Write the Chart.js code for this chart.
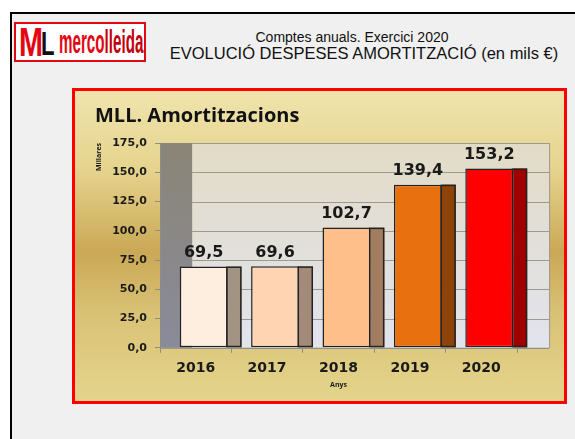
<!DOCTYPE html>
<html>
<head>
<meta charset="utf-8">
<script src="https://cdn.jsdelivr.net/npm/chart.js@4.4.0/dist/chart.umd.min.js"></script>
<style>
  html, body { margin: 0; padding: 0; background: #fff; width: 575px; height: 439px; overflow: hidden; }
  .frame { position: absolute; left: 10px; top: 12px; width: 600px; height: 460px; border: 2px solid #000; background: #f0f0f0; }
  .logo { position: absolute; left: 14px; top: 22px; width: 128px; height: 36px; border: 2px solid #e30613; background: #fff; overflow: hidden; }
  .logo div { position: absolute; font-family: "Liberation Sans", sans-serif; font-weight: bold; white-space: nowrap; transform-origin: 0 0; }
  .head { position: absolute; text-align: center; font-family: "Liberation Sans", Arial, sans-serif; color: #111; }
  .panel { position: absolute; left: 72px; top: 88px; width: 489px; height: 310px; border: 3px solid #ff0000;
    background: linear-gradient(to bottom, #efe4ad 0%, #e6d48e 25%, #caa855 52%, #d9c276 72%, #e4d58c 100%); }
  canvas { position: absolute; left: 0; top: 0; }
</style>
</head>
<body>
<div class="frame"></div>
<div class="logo">
  <div style="left:3px; top:-4px; font-size:40px; color:#e30613; transform:scaleX(0.72);">M</div>
  <div style="left:25px; top:0px; font-size:34px; color:#111; transform:scaleX(0.65);">L</div>
  <div style="left:43px; top:-1px; font-size:33px; color:#e30613; transform:scaleX(0.46);">merco<span style="color:#c4000e;">lleida</span></div>
</div>
<div class="head" style="left:200px; width:304px; top:29px; font-size:14px;">Comptes anuals. Exercici 2020</div>
<div class="head" style="left:150px; width:428px; top:44px; font-size:16.5px;">EVOLUCIÓ DESPESES AMORTITZACIÓ (en mils €)</div>
<div class="panel"><canvas id="myChart" width="489" height="310"></canvas></div>
<script>
const years = ["2016", "2017", "2018", "2019", "2020"];
const amortitzacions = [69.5, 69.6, 102.7, 139.4, 153.2];
const frontColors = ["#fdeee0", "#fed4b2", "#ffbf8a", "#e8700f", "#ff0000"];
const sideColors = ["#a39383", "#a48a78", "#a27c5e", "#8e4408", "#a00000"];
const yMin = 0, yMax = 175, yStep = 25;

const fmt = v => v.toFixed(1).replace(".", ",");
const boldFont = "'DejaVu Sans', sans-serif";

// fake 3D look: walls, side faces and value labels
const depthPlugin = {
    id: "depth",
    beforeDraw(chart) {
        const { ctx, chartArea: a, scales } = chart;
        const cat = (a.right - a.left) / years.length;
        const d = cat * 0.45;

        let g = ctx.createLinearGradient(0, a.top, 0, a.bottom);
        g.addColorStop(0, "#e2dbc6");
        g.addColorStop(1, "#e2e4ee");
        ctx.fillStyle = g;
        ctx.fillRect(a.left + d, a.top, a.right - a.left, a.bottom - a.top);

        g = ctx.createLinearGradient(0, a.top, 0, a.bottom);
        g.addColorStop(0, "#8a8576");
        g.addColorStop(1, "#8a8b9a");
        ctx.fillStyle = g;
        ctx.fillRect(a.left, a.top, d, a.bottom - a.top);

        ctx.strokeStyle = "#9d998c";
        ctx.lineWidth = 1;
        scales.y.ticks.forEach(t => {
            const y = Math.round(scales.y.getPixelForValue(t.value)) + 0.5;
            ctx.beginPath();
            ctx.moveTo(a.left + d, y);
            ctx.lineTo(a.right + d, y);
            ctx.stroke();
        });
        ctx.beginPath();
        ctx.moveTo(a.right + d + 0.5, a.top);
        ctx.lineTo(a.right + d + 0.5, a.bottom);
        ctx.stroke();
        ctx.strokeStyle = "#8c8c8c";
        ctx.beginPath();
        ctx.moveTo(a.left, a.bottom + 0.5);
        ctx.lineTo(a.right + d, a.bottom + 0.5);
        ctx.stroke();
    },
    beforeDatasetsDraw(chart) {
        const a = chart.chartArea;
        const cat = (a.right - a.left) / years.length;
        chart.ctx.save();
        chart.ctx.translate(cat * 0.112, 0);
    },
    afterDatasetsDraw(chart) {
        const { ctx, chartArea: a } = chart;
        const cat = (a.right - a.left) / years.length;
        const side = cat * 0.195;
        chart.getDatasetMeta(0).data.forEach((bar, i) => {
            const x = bar.x + bar.width / 2;
            const h = bar.base - bar.y;
            ctx.fillStyle = sideColors[i];
            ctx.fillRect(x, bar.y, side, h);
            ctx.strokeStyle = "#222";
            ctx.lineWidth = 1.5;
            ctx.strokeRect(x - 0.75, bar.y + 0.75, side, h - 1.5);

            ctx.fillStyle = "#1a1a1a";
            ctx.font = "bold 16px " + boldFont;
            ctx.textAlign = "center";
            ctx.textBaseline = "bottom";
            ctx.fillText(fmt(amortitzacions[i]), bar.x, bar.y - 6);
        });
        ctx.restore();
    }
};

new Chart(document.getElementById("myChart"), {
    type: "bar",
    data: {
        labels: years,
        datasets: [{
            data: amortitzacions,
            backgroundColor: frontColors,
            borderColor: "#222",
            borderWidth: 1.5,
            borderSkipped: false,
            categoryPercentage: 1,
            barPercentage: 0.672
        }]
    },
    options: {
        responsive: false,
        devicePixelRatio: 1,
        animation: false,
        layout: { padding: { left: 20, right: 47, top: 0, bottom: 12 } },
        plugins: {
            legend: { display: false },
            tooltip: { enabled: false },
            title: {
                display: true,
                text: "MLL. Amortitzacions",
                align: "start",
                color: "#111",
                font: { family: "'Open Sans', sans-serif", size: 20, weight: "bold" },
                padding: { top: 13, bottom: 15 }
            }
        },
        scales: {
            y: {
                min: yMin,
                max: yMax,
                afterFit: s => { s.width = 65; },
                ticks: {
                    stepSize: yStep,
                    callback: v => fmt(v),
                    color: "#1a1a1a",
                    padding: 8,
                    font: { family: boldFont, size: 11, weight: "bold" }
                },
                grid: { drawOnChartArea: false, tickLength: 5, color: "#8c8c8c" },
                border: { color: "#8c8c8c" },
                title: {
                    display: true,
                    text: "Millares",
                    align: "end",
                    color: "#1a1a1a",
                    padding: 0,
                    font: { family: "'Open Sans', sans-serif", size: 7, weight: "bold" }
                }
            },
            x: {
                afterFit: s => { s.height -= 5; },
                ticks: {
                    color: "#1a1a1a",
                    padding: 7,
                    font: { family: boldFont, size: 14, weight: "bold" }
                },
                grid: { offset: true, drawOnChartArea: false, tickLength: 5, color: "#8c8c8c" },
                border: { display: false },
                title: {
                    display: true,
                    text: "Anys",
                    color: "#1a1a1a",
                    padding: { top: 2, bottom: 0 },
                    font: { family: "'Open Sans', sans-serif", size: 7, weight: "bold" }
                }
            }
        }
    },
    plugins: [depthPlugin]
});
</script>
</body>
</html>
